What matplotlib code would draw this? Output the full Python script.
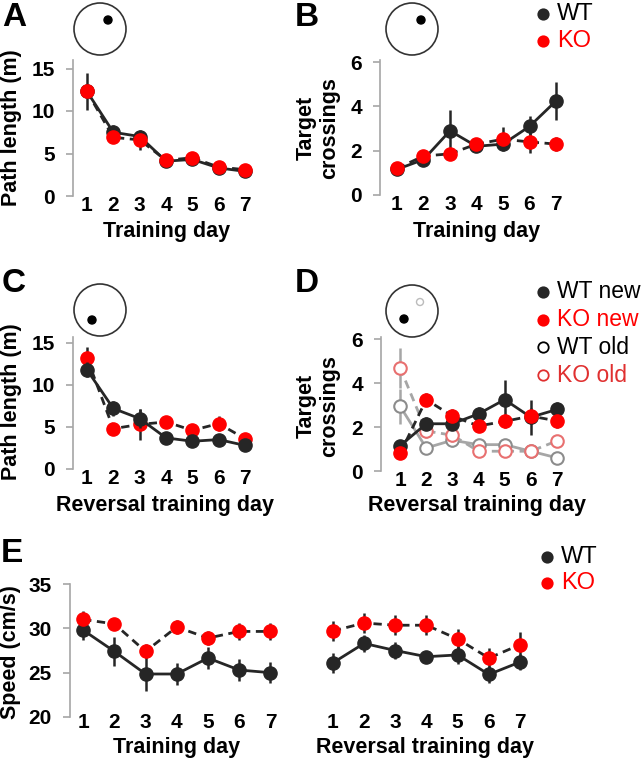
import numpy as np
import matplotlib
matplotlib.use('Agg')
from matplotlib import pyplot as plt
from matplotlib.patches import Circle

plt.rcParams['font.family'] = ['Liberation Sans', 'DejaVu Sans']

W, H = 642, 770

days = [1, 2, 3, 4, 5, 6, 7]

# A - path length, training
a_wt = [12.3, 7.5, 7.0, 4.1, 4.3, 3.3, 2.9]
a_wt_err = [2.2, 0.8, 0.6, 0.3, 0.3, 0.3, 0.3]
a_ko = [12.3, 6.9, 6.6, 4.2, 4.5, 3.4, 3.1]
a_ko_err = [0.6, 0.6, 1.2, 0.3, 0.4, 0.3, 0.3]

# B - target crossings, training
b_wt = [1.16, 1.6, 2.9, 2.2, 2.3, 3.1, 4.25]
b_wt_err = [0.15, 0.15, 0.95, 0.2, 0.25, 0.45, 0.85]
b_ko = [1.2, 1.76, 1.86, 2.3, 2.52, 2.4, 2.3]
b_ko_err = [0.15, 0.15, 0.15, 0.2, 0.55, 0.5, 0.3]

# C - path length, reversal
c_wt = [11.8, 7.2, 6.0, 3.7, 3.3, 3.5, 2.8]
c_wt_err = [0.9, 0.9, 1.1, 0.3, 0.3, 0.3, 0.3]
c_ko = [13.2, 4.8, 5.3, 5.6, 4.6, 5.4, 3.6]
c_ko_err = [1.3, 0.5, 1.8, 0.3, 0.4, 0.9, 0.4]

# D - target crossings, reversal (new and old platform)
d_wt_new = [1.15, 2.15, 2.15, 2.6, 3.25, 2.45, 2.8]
d_wt_new_err = [0.2, 0.3, 0.3, 0.3, 0.9, 0.8, 0.35]
d_ko_new = [0.8, 3.25, 2.5, 2.05, 2.26, 2.5, 2.28]
d_ko_new_err = [0.15, 0.3, 0.3, 0.25, 0.3, 0.35, 0.3]
d_wt_old = [2.95, 1.05, 1.4, 1.2, 1.2, 0.9, 0.6]
d_wt_old_err = [0.8, 0.15, 0.3, 0.2, 0.2, 0.15, 0.1]
d_ko_old = [4.7, 1.82, 1.63, 0.9, 0.9, 0.9, 1.37]
d_ko_old_err = [0.9, 0.3, 0.3, 0.15, 0.15, 0.15, 0.25]

# E - speed, training (1-7) and reversal (1-7)
e_wt_train = [29.8, 27.4, 24.85, 24.85, 26.65, 25.3, 25.0]
e_wt_train_err = [1.1, 1.6, 1.9, 1.2, 1.2, 1.2, 1.2]
e_ko_train = [31.0, 30.5, 27.4, 30.15, 28.9, 29.65, 29.65]
e_ko_train_err = [1.0, 0.6, 0.8, 0.8, 0.8, 1.0, 1.0]
e_wt_rev = [26.1, 28.3, 27.5, 26.8, 27.0, 24.8, 26.2]
e_wt_rev_err = [1.1, 1.0, 1.0, 0.6, 1.0, 1.0, 0.9]
e_ko_rev = [29.7, 30.6, 30.35, 30.35, 28.8, 26.65, 28.15]
e_ko_rev_err = [1.1, 1.1, 1.1, 1.1, 1.1, 1.1, 1.4]

DARK = '#262626'
RED = '#ff0000'
SPINE = '#a6a6a6'
TICK_FS = 15
LAB_FS = 15.5

fig = plt.figure(figsize=(W / 100, H / 100), dpi=100)


def px_axes(x0, x1, ytop, ybot):
    return fig.add_axes([x0 / W, 1 - ybot / H, (x1 - x0) / W, (ybot - ytop) / H])


def ftext(x, y, s, **kw):
    fig.text(x / W, 1 - y / H, s, **kw)


def style(ax, xlim, ylim, yticks, xticks, xpad=0):
    ax.set_xlim(*xlim)
    ax.set_ylim(*ylim)
    for s in ['top', 'right', 'bottom']:
        ax.spines[s].set_visible(False)
    ax.spines['left'].set_color(SPINE)
    ax.spines['left'].set_linewidth(1.2)
    ax.set_yticks(yticks)
    ax.set_xticks(xticks)
    ax.tick_params(axis='y', color=SPINE, length=5, width=1.2, pad=8,
                   labelsize=TICK_FS)
    ax.tick_params(axis='x', length=0, pad=xpad, labelsize=TICK_FS)
    for lb in ax.get_xticklabels() + ax.get_yticklabels():
        lb.set_fontweight('bold')
    ax.patch.set_alpha(0)


def series(ax, x, y, err, fc, ls, lc=DARK, ec=None, ecol=DARK, z=3):
    ax.errorbar(x, y, yerr=err, fmt='none', ecolor=ecol, elinewidth=1.8,
                capsize=0, zorder=z)
    ax.plot(x, y, ls=ls, color=lc, lw=2, zorder=z + 0.1,
            dashes=(3, 2) if ls == '--' else (None, None))
    if ec is None:
        ax.plot(x, y, 'o', ms=9.5, mfc=fc, mec=fc, zorder=z + 0.2)
    else:
        ax.plot(x, y, 'o', ms=9, mfc='white', mec=ec, mew=1.5, zorder=z + 0.2)


# panel A
ax = px_axes(73, 258, 60, 196)
series(ax, days, a_wt, a_wt_err, DARK, '-')
series(ax, days, a_ko, a_ko_err, RED, '--', z=4)
style(ax, (0.47, 7.49), (0, 16), [0, 5, 10, 15], days)

# panel B
ax = px_axes(380, 569, 60, 195)
series(ax, days, b_wt, b_wt_err, DARK, '-')
series(ax, days, b_ko, b_ko_err, RED, '--', z=4)
style(ax, (0.36, 7.49), (0, 6.1), [0, 2, 4, 6], days)

# panel C
ax = px_axes(73, 258, 337, 469)
series(ax, days, c_wt, c_wt_err, DARK, '-', z=4)
series(ax, days, c_ko, c_ko_err, RED, '--')
style(ax, (0.47, 7.49), (0, 15.7), [0, 5, 10, 15], days)

# panel D
ax = px_axes(381, 570, 337, 471)
series(ax, days, d_wt_old, d_wt_old_err, None, '-', lc='#a6a6a6',
       ec='#8c8c8c', ecol='#a6a6a6', z=2)
series(ax, days, d_ko_old, d_ko_old_err, None, '--', lc='#a6a6a6',
       ec='#e87070', ecol='#a6a6a6', z=2.3)
series(ax, days, d_wt_new, d_wt_new_err, DARK, '-', z=4)
series(ax, days, d_ko_new, d_ko_new_err, RED, '--', z=5)
style(ax, (0.27, 7.5), (0, 6.1), [0, 2, 4, 6], days)

# panel E (training days at 1-7, reversal days at 9-15 on the same axis)
rev_x = [d + 8 for d in days]
ax = px_axes(70, 536, 584, 717)
series(ax, days, e_wt_train, e_wt_train_err, DARK, '-')
series(ax, days, e_ko_train, e_ko_train_err, RED, '--')
series(ax, rev_x, e_wt_rev, e_wt_rev_err, DARK, '-')
series(ax, rev_x, e_ko_rev, e_ko_rev_err, RED, '--')
style(ax, (0.58, 15.51), (20, 35), [20, 25, 30, 35], days + rev_x, xpad=-3)
ax.set_xticklabels([str(d) for d in days + days], fontweight='bold')

# text: panel letters, axis labels
lab = dict(fontsize=LAB_FS, fontweight='bold', ha='center', va='center')
for x, y, s in [(14, 17, 'A'), (307, 17, 'B'), (14, 283, 'C'),
                (307, 283, 'D'), (12, 554, 'E')]:
    ftext(x, y, s, fontsize=24, fontweight='bold', ha='center', va='center')

ftext(12, 128, 'Path length (m)', rotation=90, **lab)
ftext(318, 128, 'Target\ncrossings', rotation=90, linespacing=1.15, **lab)
ftext(12, 402, 'Path length (m)', rotation=90, **lab)
ftext(318, 406, 'Target\ncrossings', rotation=90, linespacing=1.15, **lab)
ftext(11, 652, 'Speed (cm/s)', rotation=90, **lab)

ftext(167, 232, 'Training day', **lab)
ftext(477, 232, 'Training day', **lab)
ftext(165, 505, 'Reversal training day', **lab)
ftext(477, 505, 'Reversal training day', **lab)
ftext(177, 748, 'Training day', **lab)
ftext(425, 748, 'Reversal training day', **lab)

# overlay in pixel coordinates: maze drawings and legends
ov = fig.add_axes([0, 0, 1, 1])
ov.set_xlim(0, W)
ov.set_ylim(H, 0)
ov.axis('off')
ov.patch.set_alpha(0)

for cx, cy in [(100, 29), (412, 29), (100, 310), (412, 311)]:
    ov.add_patch(Circle((cx, cy), 26, fill=False, ec='#333333', lw=1.2))
for dx, dy in [(108, 20), (421, 20), (92, 320), (404, 319)]:
    ov.add_patch(Circle((dx, dy), 4, color='black'))
ov.add_patch(Circle((420, 302), 3.5, fill=False, ec='#bbbbbb', lw=1))


def legend(x, y0, step, labels, styles, fs):
    for i, (lbl, (fc, ec, tc)) in enumerate(zip(labels, styles)):
        yy = y0 + i * step
        ov.plot([x], [yy], 'o', ms=7.5, mfc=fc, mec=ec, mew=1.3)
        ov.text(x + 14, yy, lbl, fontsize=fs, color=tc, ha='left', va='center')


legend(543, 14, 27, ['WT', 'KO'], [(DARK, DARK, 'black'), (RED, RED, RED)], 17)
legend(543, 292, 27.7, ['WT new', 'KO new', 'WT old', 'KO old'],
       [(DARK, DARK, 'black'), (RED, RED, RED),
        ('white', 'black', 'black'), ('white', '#e03030', '#e03030')], 16.5)
legend(547, 557, 26, ['WT', 'KO'], [(DARK, DARK, 'black'), (RED, RED, RED)], 17)

fig.savefig('out.png', dpi=100)
